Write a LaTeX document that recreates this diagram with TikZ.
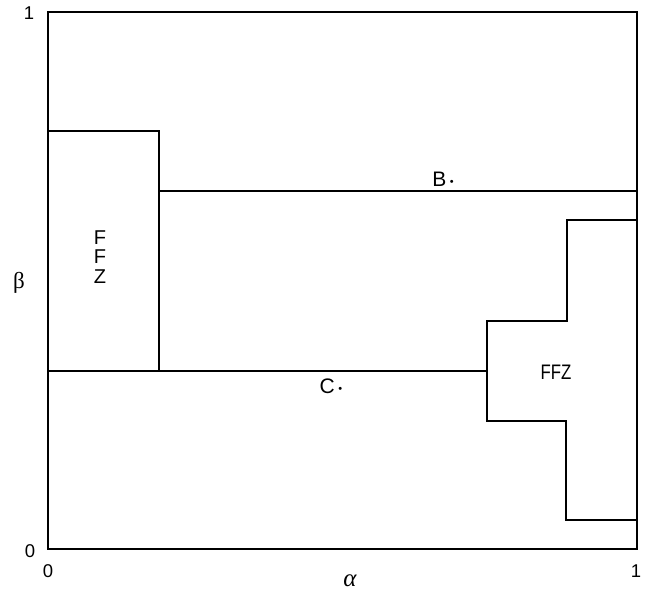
\documentclass[tikz,border=0pt]{standalone}
\usepackage{fontspec}
\setmainfont{Liberation Sans}
\newfontfamily\grk{Liberation Serif}
\usetikzlibrary{positioning}
\newcommand\pdot{\,{\fontsize{11}{11}\selectfont\raisebox{1pt}{•}}}
\tikzset{
  frm/.style={line width=2pt,black},
  bnd/.style={line width=1.2pt,black},
  lbl/.style={font=\fontsize{21}{23}\selectfont,inner sep=0pt},
  tck/.style={font=\fontsize{18.5}{20}\selectfont,inner sep=0pt}
}

\begin{document}
\begin{tikzpicture}[x=1pt,y=-1pt]
\useasboundingbox (0,0) rectangle (649,595);
% plot frame
\draw[frm] (48,12) rectangle (637,549);
% left FFZ region
\draw[bnd] (48,131) -- (159,131) -- (159,371);
% boundaries B and C
\draw[bnd] (159,191) -- (637,191);
\draw[bnd] (48,371) -- (487,371);
% right FFZ region
\draw[bnd] (637,220) -- (567,220) -- (567,321) -- (487,321) -- (487,421)
  -- (566,421) -- (566,520) -- (637,520);
% labels
\node[lbl] (b) at (443,179) {B\pdot};
\node[lbl] (c) at (331,386) {C\pdot};
\node[lbl,xscale=0.8] (ffzr) at (556,372) {FFZ};
\node[lbl,font=\fontsize{20}{19.5}\selectfont,align=center] (ffzl) at (100,257) {F\\F\\Z};
% axes
\node[tck] (y1) at (29,13) {1};
\node[tck] (y0) at (30,551) {0};
\node[tck] (x0) at (48,571) {0};
\node[tck] (x1) at (636,571) {1};
\node[tck,font=\fontsize{25}{27}\grk\itshape] (al) at (350,581) {α};
\node[tck,font=\fontsize{23}{25}\grk] (be) at (19,283) {β};
\end{tikzpicture}
\end{document}
